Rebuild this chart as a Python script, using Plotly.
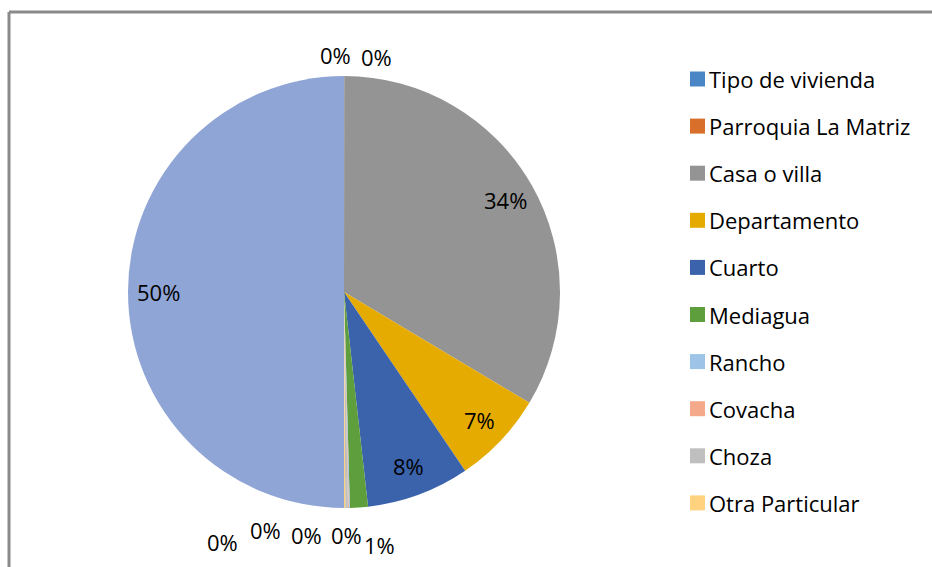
import math

import plotly.graph_objects as go

# ---------------------------------------------------------------------------
# Datos
# ---------------------------------------------------------------------------

categorias = [
    "Tipo de vivienda", "Parroquia La Matriz", "Casa o villa", "Departamento",
    "Cuarto", "Mediagua", "Rancho", "Covacha", "Choza", "Otra Particular", "Total",
]
viviendas = [1, 1, 4250, 880, 975, 170, 10, 8, 25, 12, 6332]
colores = [
    "#4A86C5", "#D86F2A", "#949494", "#E6AB00", "#3B63AC", "#5F9E3C",
    "#9DC3E6", "#F4A98A", "#BFBFBF", "#FFD27F", "#8FA5D6",
]
# el último sector no aparece en la leyenda del original
n_leyenda = 10

# ---------------------------------------------------------------------------
# Estilo
# ---------------------------------------------------------------------------

FUENTE = "'Open Sans', sans-serif"
TAM = 22
W, H = 932, 567
CX, CY, R = 344, 292, 216  # centro y radio del pastel, en píxeles

# etiquetas de sectores pequeños: posición manual (px) como en el original
pos_fuera = {
    0: (335, 55), 1: (376, 57), 5: (379, 545),
    6: (346, 535), 7: (306, 535), 8: (265, 530), 9: (222, 542),
}

fig = go.Figure(go.Pie(
    labels=categorias,
    values=viviendas,
    sort=False,
    direction="clockwise",
    rotation=0,
    marker=dict(colors=colores, line=dict(width=0)),
    textinfo="none",
    showlegend=False,
    hoverinfo="label+value+percent",
    domain=dict(x=[(CX - R) / W, (CX + R) / W], y=[1 - (CY + R) / H, 1 - (CY - R) / H]),
))

shapes = [
    dict(type="line", xref="paper", yref="paper", x0=9 / W, x1=1.01,
         y0=1 - 12 / H, y1=1 - 12 / H, line=dict(color="#8A8A8A", width=3)),
    dict(type="line", xref="paper", yref="paper", x0=9 / W, x1=9 / W,
         y0=-0.01, y1=1 - 12 / H, line=dict(color="#8A8A8A", width=3)),
]
annotations = []

# etiquetas de porcentaje
total = sum(viviendas)
acum = 0
for i, v in enumerate(viviendas):
    frac = v / total
    texto = f"{round(frac * 100):.0f}%"
    if i in pos_fuera:
        px_, py_ = pos_fuera[i]
    else:
        ang = 2 * math.pi * (acum + frac / 2)
        px_ = CX + 0.86 * R * math.sin(ang)
        py_ = CY - 0.86 * R * math.cos(ang)
    acum += frac
    annotations.append(dict(
        x=px_ / W, y=1 - py_ / H, xref="paper", yref="paper",
        text=texto, showarrow=False, xanchor="center", yanchor="middle",
        font=dict(family=FUENTE, size=TAM, color="#000000"),
    ))

# leyenda dibujada a mano (10 entradas)
for i in range(n_leyenda):
    yc = 79 + i * 47.1
    shapes.append(dict(
        type="rect", xref="paper", yref="paper",
        x0=690 / W, x1=705 / W, y0=1 - (yc + 7.5) / H, y1=1 - (yc - 7.5) / H,
        fillcolor=colores[i], line=dict(width=0),
    ))
    annotations.append(dict(
        x=707 / W, y=1 - yc / H, xref="paper", yref="paper",
        text=categorias[i], showarrow=False, xanchor="left", yanchor="middle",
        font=dict(family=FUENTE, size=TAM, color="#000000"),
    ))

fig.update_layout(
    width=W,
    height=H,
    margin=dict(l=0, r=0, t=0, b=0, autoexpand=False),
    paper_bgcolor="#FFFFFF",
    plot_bgcolor="#FFFFFF",
    shapes=shapes,
    annotations=annotations,
)

# sin margen en la página, para que la figura ocupe toda la ventana
fig.write_html(
    "out.html",
    config={"displayModeBar": False},
    post_script="document.body.style.margin = '0';",
)
